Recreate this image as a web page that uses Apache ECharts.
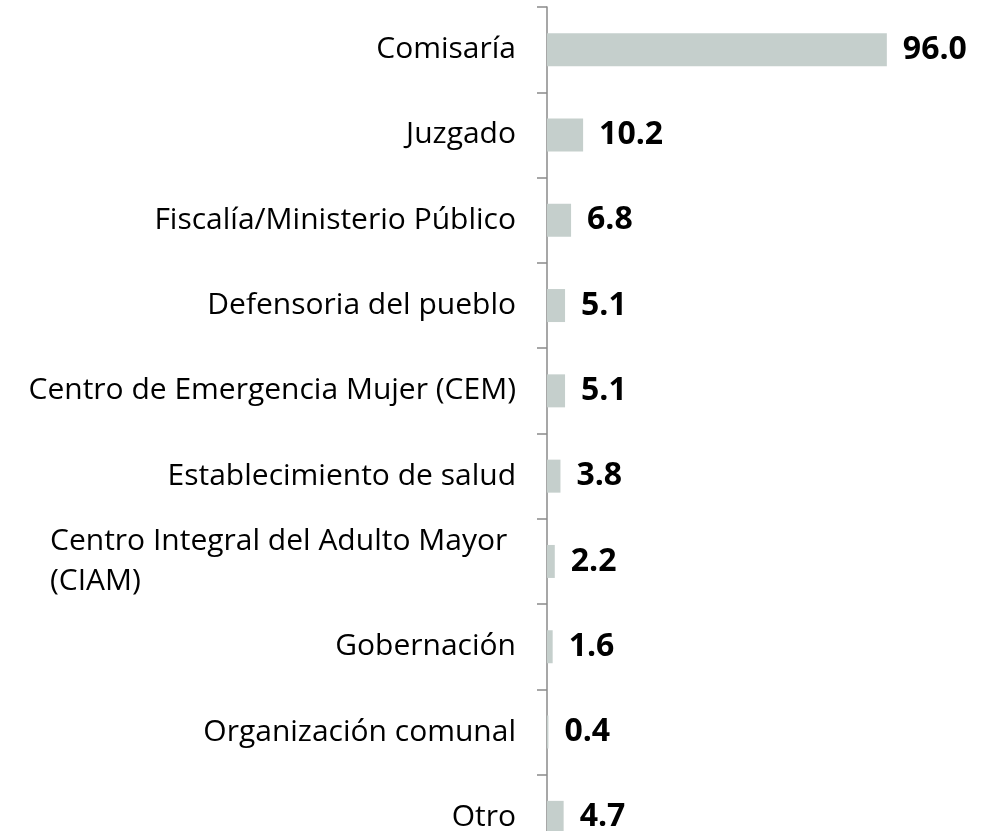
<!DOCTYPE html>
<html>
<head>
<meta charset="utf-8">
<script src="https://cdn.jsdelivr.net/npm/echarts@6/dist/echarts.min.js"></script>
<style>html,body{margin:0;padding:0;background:#fff;}#c{width:988px;height:831px;}</style>
</head>
<body>
<div id="c"></div>
<script>
const categories = [
  "Comisaría",
  "Juzgado",
  "Fiscalía/Ministerio Público",
  "Defensoria del pueblo",
  "Centro de Emergencia Mujer (CEM)",
  "Establecimiento de salud",
  "Centro Integral del Adulto Mayor (CIAM)",
  "Gobernación",
  "Organización comunal",
  "Otro"
];
const values = [96.0, 10.2, 6.8, 5.1, 5.1, 3.8, 2.2, 1.6, 0.4, 4.7];

const FONT = "Open Sans";
const chart = echarts.init(document.getElementById('c'), null, {renderer: 'canvas'});
chart.setOption({
  backgroundColor: '#ffffff',
  animation: false,
  grid: {left: 547, top: 7, width: 354, height: 853, containLabel: false, outerBoundsMode: 'none'},
  xAxis: {
    type: 'value', min: 0, max: 100, show: false
  },
  yAxis: {
    type: 'category',
    data: categories,
    inverse: true,
    axisLine: {show: true, lineStyle: {color: '#8a8a8a', width: 1.5}},
    axisTick: {show: true, length: 10, lineStyle: {color: '#8a8a8a', width: 1.5}},
    axisLabel: {
      margin: 31,
      color: '#000',
      fontFamily: FONT,
      fontSize: 30,
      formatter: function (v) {
        if (v.indexOf('CIAM') >= 0) {
          return '{w|Centro Integral del Adulto Mayor}\n{w|(CIAM)}';
        }
        return v;
      },
      rich: {
        w: {width: 466, align: 'left', fontFamily: FONT, fontSize: 30, color: '#000', lineHeight: 40}
      }
    },
    splitLine: {show: false}
  },
  series: [{
    type: 'bar',
    data: values,
    barWidth: 33,
    itemStyle: {color: '#c5cfcc'},
    label: {
      show: true,
      position: 'right',
      distance: 16,
      color: '#000',
      fontFamily: FONT,
      fontWeight: 'bold',
      fontSize: 32,
      formatter: function (p) { return p.value.toFixed(1); }
    }
  }]
});
</script>
</body>
</html>
